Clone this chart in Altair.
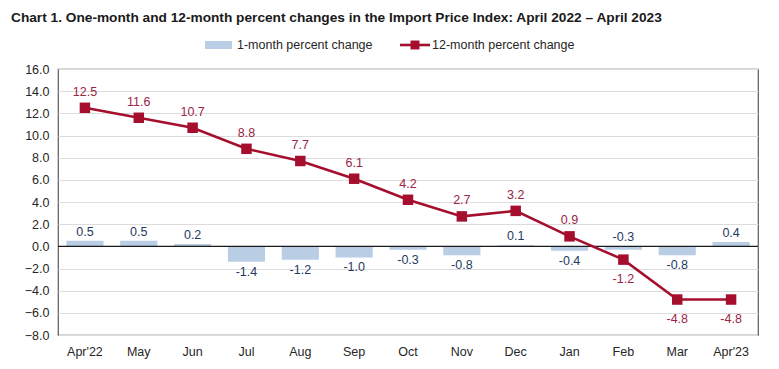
import altair as alt
import pandas as pd

months = ["Apr'22", "May", "Jun", "Jul", "Aug", "Sep", "Oct", "Nov", "Dec", "Jan", "Feb", "Mar", "Apr'23"]
one_month = [0.5, 0.5, 0.2, -1.4, -1.2, -1.0, -0.3, -0.8, 0.1, -0.4, -0.3, -0.8, 0.4]
twelve_month = [12.5, 11.6, 10.7, 8.8, 7.7, 6.1, 4.2, 2.7, 3.2, 0.9, -1.2, -4.8, -4.8]
bar_label_side = ["above", "above", "above", "below", "below", "below", "below", "below",
                  "above", "below", "above", "below", "above"]
line_label_side = ["above"] * 10 + ["below"] * 3
y_ticks = [-8, -6, -4, -2, 0, 2, 4, 6, 8, 10, 12, 14, 16]
title_text = "Chart 1. One-month and 12-month percent changes in the Import Price Index: April 2022 \u2013 April 2023"

FONT = "Liberation Sans"
BAR_COLOR = "#B9CDE5"
LINE_COLOR = "#A50F2D"
LINE_TEXT = "#9A2545"
BAR_TEXT = "#1F3A5F"

df = pd.DataFrame({
    "month": months,
    "one": one_month,
    "twelve": twelve_month,
    "bside": bar_label_side,
    "lside": line_label_side,
})
df["banchor"] = [max(v, 0) if s == "above" else min(v, 0) for v, s in zip(one_month, bar_label_side)]
df["one_lbl"] = [f"{v:.1f}" for v in one_month]
df["twelve_lbl"] = [f"{v:.1f}" for v in twelve_month]

xaxis = alt.Axis(labelAngle=0, ticks=False, domain=False, labelPadding=10,
                 labelFontSize=12.5, labelColor="#262626", labelFont=FONT)
xscale = alt.Scale(paddingInner=0.31, paddingOuter=0.155)
yscale = alt.Scale(domain=[-8, 16], nice=False, zero=False)
yaxis = alt.Axis(values=y_ticks, format=".1f", ticks=False, domain=False, labelPadding=9,
                 labelFontSize=12.5, labelColor="#262626", labelFont=FONT, labelOverlap=False,
                 gridColor="#DCDCDC", gridWidth=1)


def X():
    return alt.X("month:N", sort=months, title=None, scale=xscale, axis=xaxis)


def Y(field):
    return alt.Y(field, scale=yscale, axis=yaxis, title=None)


base = alt.Chart(df)

bars = base.mark_bar(color=BAR_COLOR).encode(x=X(), y=Y("one:Q"), y2=alt.datum(0))

zero = alt.Chart(pd.DataFrame({"z": [0]})).mark_rule(color="#1a1a1a", strokeWidth=1.2).encode(
    y=Y("z:Q"))

line = base.mark_line(color=LINE_COLOR, strokeWidth=2.6).encode(x=X(), y=Y("twelve:Q"))
pts = base.mark_point(shape="square", filled=True, color=LINE_COLOR, size=110, opacity=1).encode(
    x=X(), y=Y("twelve:Q"))

bar_above = base.transform_filter(alt.datum.bside == "above").mark_text(
    dy=-9, fontSize=12.5, font=FONT, color=BAR_TEXT).encode(
    x=X(), y=Y("banchor:Q"), text="one_lbl:N")
bar_below = base.transform_filter(alt.datum.bside == "below").mark_text(
    dy=10, fontSize=12.5, font=FONT, color=BAR_TEXT).encode(
    x=X(), y=Y("banchor:Q"), text="one_lbl:N")
line_above = base.transform_filter(alt.datum.lside == "above").mark_text(
    dy=-16, fontSize=12.5, font=FONT, color=LINE_TEXT).encode(
    x=X(), y=Y("twelve:Q"), text="twelve_lbl:N")
line_below = base.transform_filter(alt.datum.lside == "below").mark_text(
    dy=19, fontSize=12.5, font=FONT, color=LINE_TEXT).encode(
    x=X(), y=Y("twelve:Q"), text="twelve_lbl:N")

# title and legend (drawn above plot area)
one = alt.Chart(pd.DataFrame({"a": [1]}))
title = one.mark_text(align="left", baseline="middle", fontSize=13.7, fontWeight="bold",
                      font=FONT, color="#1a1a1a").encode(
    x=alt.value(-47), y=alt.value(-51), text=alt.value(title_text))
leg_bar = one.mark_rect(color=BAR_COLOR).encode(
    x=alt.value(147), x2=alt.value(174), y=alt.value(-28), y2=alt.value(-20))
leg_bar_t = one.mark_text(align="left", baseline="middle", fontSize=12.5, font=FONT, color="#262626").encode(
    x=alt.value(179), y=alt.value(-24), text=alt.value("1-month percent change"))
leg_line = one.mark_rule(color=LINE_COLOR, strokeWidth=2.6).encode(
    x=alt.value(342), x2=alt.value(372), y=alt.value(-24))
leg_pt = one.mark_point(shape="square", filled=True, color=LINE_COLOR, size=80, opacity=1).encode(
    x=alt.value(357), y=alt.value(-24))
leg_line_t = one.mark_text(align="left", baseline="middle", fontSize=12.5, font=FONT, color="#262626").encode(
    x=alt.value(374), y=alt.value(-24), text=alt.value("12-month percent change"))

chart = alt.layer(
    bars, zero, line, pts, bar_above, bar_below, line_above, line_below,
    title, leg_bar, leg_bar_t, leg_line, leg_pt, leg_line_t
).properties(
    width=700, height=266,
    padding={"left": 50, "top": 61, "right": 13, "bottom": 26},
    autosize="none",
).configure_view(stroke="#595959", strokeWidth=1.2)

chart.save("out.html", embed_options={"renderer": "svg", "actions": False})
